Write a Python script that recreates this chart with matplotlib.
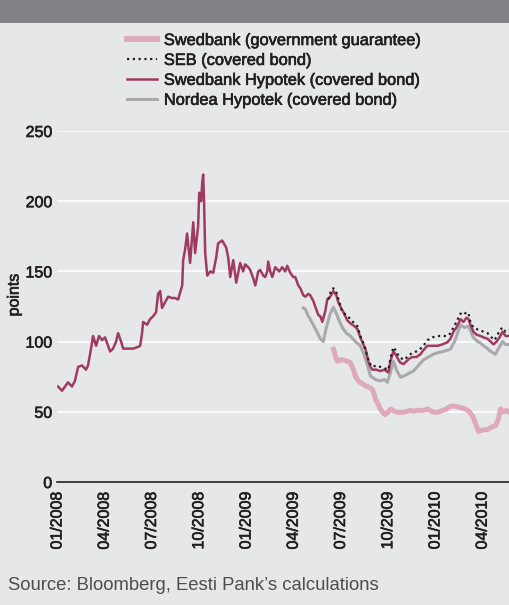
import matplotlib
matplotlib.use('Agg')
import matplotlib.pyplot as plt
import matplotlib.patheffects as pe
from matplotlib.patches import Rectangle

plt.rcParams['font.family'] = ['Liberation Sans', 'DejaVu Sans']

# x positions are months since the start of January 2008
tick_pos = [0, 3, 6, 9, 12, 15, 18, 21, 24, 27]
tick_labels = ['01/2008', '04/2008', '07/2008', '10/2008', '01/2009',
               '04/2009', '07/2009', '10/2009', '01/2010', '04/2010']

# Swedbank Hypotek (covered bond)
hyp_x = [0.06, 0.32, 0.51, 0.70, 0.95, 1.14, 1.34, 1.59, 1.84, 1.97, 2.16, 2.29, 2.48, 2.67, 2.86,
         3.05, 3.18, 3.37, 3.56, 3.75, 3.88, 4.07, 4.20, 4.51, 4.83, 5.09, 5.28, 5.40, 5.47, 5.72,
         5.91, 6.10, 6.29, 6.42, 6.55, 6.67, 6.86, 7.06, 7.31, 7.50, 7.69, 7.82, 7.95, 8.01, 8.14,
         8.26, 8.45, 8.65, 8.77, 8.96, 9.03, 9.15, 9.22, 9.28, 9.34, 9.41, 9.54, 9.73, 9.92, 10.11,
         10.23, 10.49, 10.74, 10.87, 11.00, 11.19, 11.38, 11.63, 11.82, 11.95, 12.14, 12.27, 12.46,
         12.59, 12.78, 12.90, 13.10, 13.22, 13.35, 13.41, 13.54, 13.67, 13.86, 14.11, 14.30, 14.49,
         14.62, 14.81, 15.00, 15.13, 15.32, 15.45, 15.64, 15.77, 15.96, 16.08, 16.27, 16.40, 16.59,
         16.72, 16.85, 17.04, 17.16, 17.35, 17.55, 17.74, 17.86, 17.99, 18.18, 18.44, 18.63, 18.88,
         19.07, 19.26, 19.45, 19.58, 19.77, 19.90, 20.02, 20.28, 20.53, 20.79, 21.04, 21.17, 21.36,
         21.55, 21.68, 21.80, 22.00, 22.19, 22.38, 22.57, 22.82, 23.08, 23.27, 23.52, 23.84, 24.16,
         24.47, 24.79, 24.98, 25.17, 25.36, 25.62, 25.81, 26.00, 26.13, 26.25, 26.44, 26.63, 26.89,
         27.08, 27.34, 27.53, 27.72, 27.91, 28.10, 28.29, 28.48, 28.73]
hyp_y = [68, 65, 68, 71, 68, 72, 82, 83, 80, 83, 95, 104, 97, 104, 101,
         103, 99, 93, 95, 100, 106, 100, 95, 95, 95, 96, 97, 106, 114, 112,
         116, 118, 121, 134, 136, 124, 128, 132, 131, 131, 130, 135, 140, 158, 166,
         177, 156, 185, 163, 182, 206, 200, 213, 219, 199, 163, 147, 150, 149, 160,
         170, 172, 167, 160, 146, 158, 142, 156, 150, 155, 153, 151, 145,
         140, 150, 151, 147, 146, 150, 157, 150, 146, 153, 150, 153, 150,
         154, 149, 146, 146, 140, 138, 133, 132, 134, 133, 129, 125, 119,
         118, 114, 122, 130, 132, 136, 133, 128, 125, 121, 115, 113, 111,
         109, 103, 98, 95, 86, 82, 80, 80, 79, 80, 78, 86, 93,
         90, 87, 85, 84, 86, 88, 89, 89, 91, 94, 97, 97, 97,
         98, 99.5, 102, 107, 110, 116, 114, 117, 116, 112, 107, 105, 104,
         103, 102, 100, 98, 100, 103, 107, 104, 104]

# SEB (covered bond)
seb_x = [17.23, 17.42, 17.55, 17.74, 17.93, 18.12, 18.37, 18.63, 18.88, 19.07, 19.26, 19.45, 19.64,
         19.83, 20.02, 20.28, 20.53, 20.79, 21.04, 21.17, 21.36, 21.55, 21.68, 21.87, 22.06, 22.31,
         22.57, 22.82, 23.08, 23.33, 23.52, 23.84, 24.16, 24.47, 24.79, 24.98, 25.17, 25.36, 25.62,
         25.81, 26.00, 26.13, 26.25, 26.44, 26.63, 26.89, 27.08, 27.34, 27.53, 27.72, 27.91, 28.10,
         28.29, 28.48, 28.73]
seb_y = [130, 137, 138, 135, 128, 121, 119, 116, 113, 111, 104, 99, 92,
         85, 82, 83, 82, 81, 80, 88, 96, 93, 90, 88, 87, 90,
         92, 93, 95, 98, 101, 103, 104, 104, 104, 106, 110, 114, 120,
         119, 121, 120, 114, 110, 109, 108, 107, 106, 104, 101, 103, 108,
         110, 107, 108]

# Nordea Hypotek (covered bond)
nor_x = [15.64, 15.77, 15.96, 16.08, 16.27, 16.46, 16.72, 16.91, 17.10, 17.35, 17.55, 17.74, 17.99,
         18.12, 18.37, 18.63, 18.94, 19.26, 19.45, 19.64, 19.90, 20.22, 20.53, 20.79, 20.98, 21.17,
         21.36, 21.55, 21.80, 22.12, 22.44, 22.63, 22.95, 23.27, 23.58, 23.90, 24.16, 24.54, 24.98,
         25.24, 25.43, 25.62, 25.87, 26.13, 26.25, 26.44, 26.70, 26.89, 27.08, 27.34, 27.53, 27.84,
         28.03, 28.29, 28.48, 28.73]
nor_y = [124, 123, 118, 116, 112, 108, 102, 100, 110, 120, 124.5, 120, 113,
         110, 106, 104, 100, 97, 92, 86, 75.5, 73, 72, 73, 71, 78,
         86, 80, 74.6, 76, 78, 79, 83, 87, 89, 91, 92, 93, 94.6,
         100, 106, 112, 110, 111, 108, 103, 100, 99, 97, 95, 93, 91,
         95, 100, 98, 98]

# Swedbank (government guarantee)
gov_x = [17.55, 17.67, 17.80, 17.99, 18.18, 18.44, 18.63, 18.82, 18.94, 19.13, 19.26, 19.52, 19.71,
         19.90, 20.02, 20.15, 20.22, 20.41, 20.53, 20.72, 20.85, 21.04, 21.17, 21.49, 21.80, 22.12,
         22.44, 22.63, 22.95, 23.27, 23.52, 23.84, 24.16, 24.47, 24.73, 24.98, 25.30, 25.62, 25.94,
         26.19, 26.38, 26.57, 26.76, 27.02, 27.34, 27.59, 27.84, 28.03, 28.16, 28.35, 28.54, 28.73]
gov_y = [94.6, 90, 86, 87, 87, 86, 85, 80, 75.5, 72, 71, 69, 68,
         67, 66, 62, 59, 55, 52, 49, 48, 50, 52, 50, 49.5, 50,
         51, 50.5, 51, 51, 52, 50, 49.5, 51, 52, 54, 54, 53, 52,
         50, 47, 42, 36, 37, 37.4, 39, 40, 45, 52, 50, 51, 49.5]

BG = '#e6e7e8'
INK = '#231f20'
# a thin stroke of the same colour gives the medium weight of the original labels
MEDIUM = [pe.withStroke(linewidth=0.45, foreground=INK)]

fig = plt.figure(figsize=(5.09, 6.05), dpi=100, facecolor=BG)
# dark header band at the top
fig.patches.append(Rectangle((0, 1 - 23 / 605), 1, 23 / 605, transform=fig.transFigure,
                             facecolor='#808285', edgecolor='none'))

ax = fig.add_axes([57 / 509, 123 / 605, 452 / 509, 351 / 605])
ax.set_facecolor(BG)

ax.plot(gov_x, gov_y, color='#dda9bb', lw=3.6,
        label='Swedbank (government guarantee)', zorder=2)
ax.plot(nor_x, nor_y, color='#a7a9ac', lw=2.2, label='Nordea Hypotek (covered bond)', zorder=3)
ax.plot(hyp_x, hyp_y, color='#9e3a64', lw=1.8, label='Swedbank Hypotek (covered bond)', zorder=4)
ax.plot(seb_x, seb_y, color=INK, lw=1.6, linestyle=(0, (1, 1.6)),
        label='SEB (covered bond)', zorder=5)

ax.set_xlim(0, 28.7)
ax.set_ylim(0, 250)
ax.set_yticks([0, 50, 100, 150, 200, 250])
ax.set_xticks(tick_pos)
ax.set_xticklabels(tick_labels, rotation=90, va='top', ha='center')
ax.tick_params(axis='both', length=0, labelsize=11.5, colors=INK)
ax.tick_params(axis='y', pad=3.5)
ax.tick_params(axis='x', pad=7)
for t in ax.get_xticklabels() + ax.get_yticklabels():
    t.set_path_effects(MEDIUM)
ax.grid(axis='y', color='white', lw=1.1)
ax.grid(axis='x', visible=False)
ax.set_axisbelow(True)
for side in ['left', 'right', 'top']:
    ax.spines[side].set_visible(False)
ax.spines['bottom'].set_color(INK)
ax.spines['bottom'].set_linewidth(1.2)

fig.text(14 / 509, 1 - 295 / 605, 'points', rotation=90, ha='center', va='center',
         fontsize=11.5, color=INK, path_effects=MEDIUM)

# legend in the order shown in the original
h, l = ax.get_legend_handles_labels()
order = [0, 3, 2, 1]
leg = fig.legend([h[i] for i in order], [l[i] for i in order], loc='upper left',
                 bbox_to_anchor=(127 / 509, 1 - 33 / 605), frameon=False, fontsize=11.8,
                 handlelength=1.85, handletextpad=0.4, labelspacing=0.3, borderpad=0,
                 borderaxespad=0, labelcolor=INK)
for t in leg.get_texts():
    t.set_path_effects(MEDIUM)
leg.get_lines()[0].set_linewidth(4.2)

fig.text(8 / 509, 1 - 585 / 605, 'Source: Bloomberg, Eesti Pank\u2019s calculations',
         ha='left', va='center', fontsize=13.3, color='#4d4d4f')

fig.savefig('out.png', dpi=100, facecolor=BG)
